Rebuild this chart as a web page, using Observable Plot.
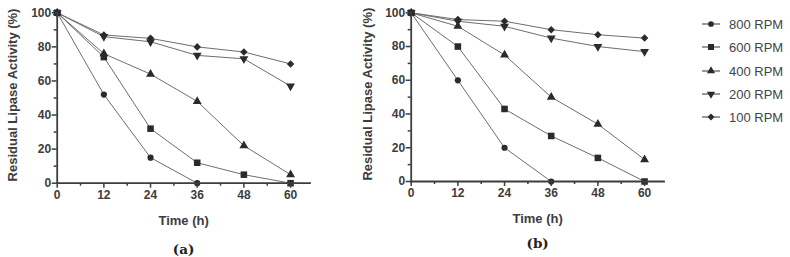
<!DOCTYPE html>
<html>
<head>
<meta charset="utf-8">
<script src="https://cdn.jsdelivr.net/npm/d3@7"></script>
<script src="https://cdn.jsdelivr.net/npm/@observablehq/plot@0.6"></script>
<style>
  html, body { margin: 0; padding: 0; background: #fff; }
  #wrap { position: relative; width: 790px; height: 257px; overflow: hidden; font-family: "Liberation Sans", Arial, sans-serif; }
  .panel { position: absolute; top: 0; }
  #legend { position: absolute; left: 700px; top: 0; width: 90px; height: 140px; }
</style>
</head>
<body>
<div id="wrap">
  <div class="panel" id="pa" style="left:0px"></div>
  <div class="panel" id="pb" style="left:354px"></div>
  <div id="legend"></div>
</div>
<script>
// ---- data ----
const times = [0, 12, 24, 36, 48, 60];
const seriesNames = ["800 RPM", "600 RPM", "400 RPM", "200 RPM", "100 RPM"];
const xTicks = [0, 12, 24, 36, 48, 60];
const xMinorTicks = [6, 18, 30, 42, 54];
const yTicks = [0, 20, 40, 60, 80, 100];
const yMinorTicks = [10, 30, 50, 70, 90];
const xLabel = "Time (h)";
const yLabel = "Residual Lipase Activity (%)";

// panel (a)
const a800 = [100, 52, 15, 0];
const a600 = [100, 74, 32, 12, 5, 0];
const a400 = [100, 76, 64, 48, 22, 5];
const a200 = [100, 86, 83, 75, 73, 57];
const a100 = [100, 87, 85, 80, 77, 70];
// panel (b)
const b800 = [100, 60, 20, 0];
const b600 = [100, 80, 43, 27, 14, 0];
const b400 = [100, 92, 75, 50, 34, 13];
const b200 = [100, 95, 92, 85, 80, 77];
const b100 = [100, 96, 95, 90, 87, 85];

// ---- symbols ----
const sqrt3 = Math.sqrt(3);
const triangleDown = {
  draw(context, size) {
    const y = -Math.sqrt(size / (sqrt3 * 3));
    context.moveTo(0, -y * 2);
    context.lineTo(-sqrt3 * y, y);
    context.lineTo(sqrt3 * y, y);
    context.closePath();
  }
};
const diamondSq = {
  draw(context, size) {
    const h = Math.sqrt(size / 2);
    context.moveTo(0, -h);
    context.lineTo(h, 0);
    context.lineTo(0, h);
    context.lineTo(-h, 0);
    context.closePath();
  }
};
const symbolFor = {
  "800 RPM": {symbol: "circle", r: 3.1},
  "600 RPM": {symbol: "square", r: 3.7},
  "400 RPM": {symbol: "triangle", r: 3.3},
  "200 RPM": {symbol: triangleDown, r: 3.3},
  "100 RPM": {symbol: diamondSq, r: 3.0}
};

function rows(seriesArrays) {
  const out = [];
  seriesArrays.forEach((vals, i) => {
    vals.forEach((v, j) => out.push({series: seriesNames[i], time: times[j], value: v}));
  });
  return out;
}

const ink = "#2b2b2b";
const axisInk = "#3d3d3d";
const lineInk = "#6e6e6e";

function panel(data, opts) {
  const marks = [
    Plot.line(data, {x: "time", y: "value", z: "series", stroke: lineInk, strokeWidth: 1})
  ];
  for (const s of seriesNames) {
    const d = data.filter(r => r.series === s);
    marks.push(Plot.dot(d, {x: "time", y: "value", symbol: symbolFor[s].symbol, r: symbolFor[s].r, fill: ink, stroke: "none"}));
  }
  marks.push(
    Plot.frame({anchor: "bottom", stroke: axisInk, strokeWidth: 1.8}),
    Plot.frame({anchor: "left", stroke: axisInk, strokeWidth: 1.8}),
    Plot.axisX({ticks: xTicks, tickSize: 5, tickPadding: 2, strokeWidth: 1.5, stroke: axisInk, fill: axisInk, fontSize: 12, fontWeight: "bold", label: null}),
    Plot.axisX({ticks: xMinorTicks, tickSize: 3, strokeWidth: 1.5, stroke: axisInk, text: null, label: null}),
    Plot.axisY({ticks: yTicks, tickSize: 5, tickPadding: 1, strokeWidth: 1.5, stroke: axisInk, fill: axisInk, fontSize: 12, fontWeight: "bold", label: null}),
    Plot.axisY({ticks: yMinorTicks, tickSize: 3, strokeWidth: 1.5, stroke: axisInk, text: null, label: null}),
    Plot.text([yLabel], {frameAnchor: "left", textAnchor: "middle", lineAnchor: "middle", rotate: -90, dx: opts.ylabDx, dy: -3, fill: axisInk, fontSize: 13, fontWeight: "bold"}),
    Plot.text([xLabel], {frameAnchor: "bottom", textAnchor: "middle", lineAnchor: "middle", dy: opts.xlabDy, fill: axisInk, fontSize: 13, fontWeight: "bold"}),
    Plot.text([opts.tag], {frameAnchor: "bottom", textAnchor: "middle", lineAnchor: "middle", dy: opts.tagDy, fill: "#222", fontSize: 13.5, fontWeight: "bold", fontFamily: "DejaVu Serif, serif"})
  );
  return Plot.plot({
    width: 340,
    height: 257,
    marginLeft: 56.7,
    marginRight: 340 - 309.5,
    marginTop: opts.top,
    marginBottom: 257 - opts.bottom,
    x: {domain: [0, 65]},
    y: {domain: [0, 100]},
    style: {fontFamily: "Liberation Sans, Arial, sans-serif", background: "transparent", overflow: "visible"},
    marks
  });
}

document.getElementById("pa").appendChild(panel(rows([a800, a600, a400, a200, a100]), {top: 12.3, bottom: 182.7, tag: "(a)", xlabDy: 38, tagDy: 66, ylabDx: -44}));
document.getElementById("pb").appendChild(panel(rows([b800, b600, b400, b200, b100]), {top: 12.3, bottom: 181, tag: "(b)", xlabDy: 37, tagDy: 62, ylabDx: -43}));

// ---- legend ----
const legendY = [24, 47, 71, 94, 117];
const lg = d3.select("#legend").append("svg").attr("width", 90).attr("height", 140);
seriesNames.forEach((s, i) => {
  const g = lg.append("g").attr("transform", `translate(0,${legendY[i]})`);
  g.append("line").attr("x1", 2).attr("x2", 20).attr("y1", 0).attr("y2", 0).attr("stroke", "#555").attr("stroke-width", 1.2);
  const sym = symbolFor[s];
  const t = typeof sym.symbol === "string" ? ({circle: d3.symbolCircle, square: d3.symbolSquare, triangle: d3.symbolTriangle})[sym.symbol] : sym.symbol;
  g.append("path").attr("transform", "translate(11,0)").attr("d", d3.symbol(t, sym.r * sym.r * Math.PI * 0.85)()).attr("fill", ink);
  g.append("text").attr("x", 29).attr("y", 0).attr("dy", "0.35em").attr("font-size", 13).attr("fill", "#444").attr("font-family", "Liberation Sans, Arial, sans-serif").text(s);
});
</script>
</body>
</html>
